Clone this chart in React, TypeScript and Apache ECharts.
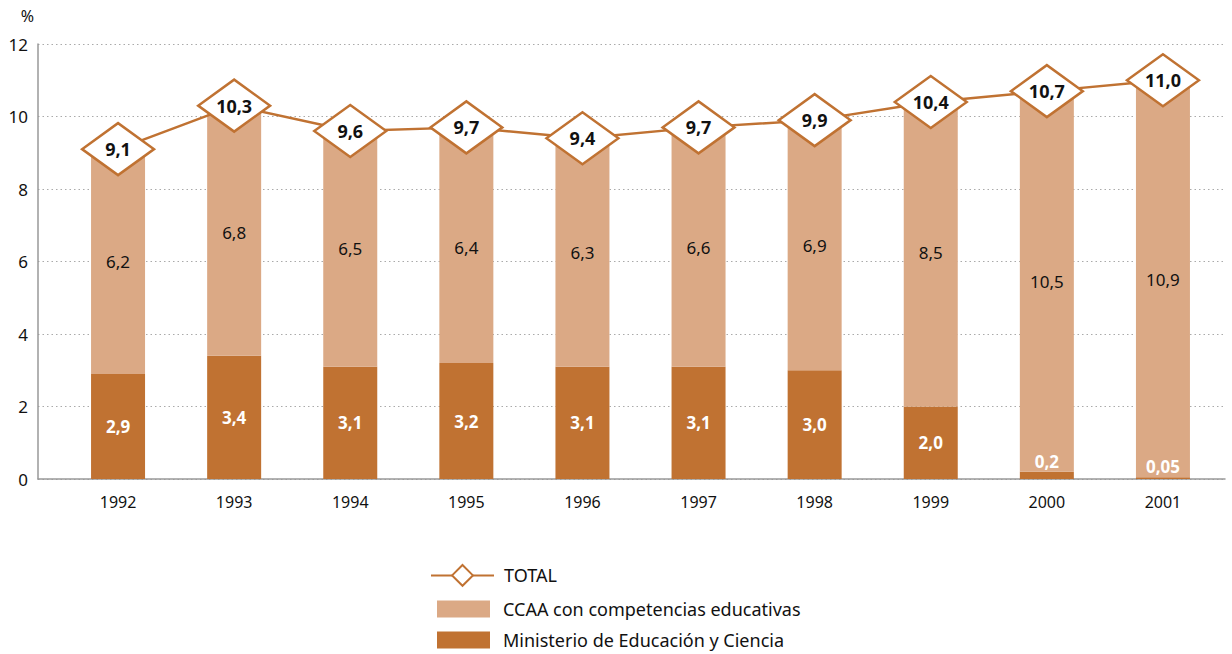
import React, { useEffect, useRef } from "react";
import * as echarts from "echarts";

const years = ["1992", "1993", "1994", "1995", "1996", "1997", "1998", "1999", "2000", "2001"];
const ministerio = [2.9, 3.4, 3.1, 3.2, 3.1, 3.1, 3.0, 2.0, 0.2, 0.05];
const ccaa = [6.2, 6.8, 6.5, 6.4, 6.3, 6.6, 6.9, 8.5, 10.5, 10.9];
const total = [9.1, 10.3, 9.6, 9.7, 9.4, 9.7, 9.9, 10.4, 10.7, 11.0];

const DARK = "#C07232";
const LIGHT = "#DBA985";
const FONT = "'Noto Sans', sans-serif";

const fmt = (v: number) => (v < 0.1 ? v.toFixed(2) : v.toFixed(1)).replace(".", ",");

export default function App() {
  const ref = useRef<HTMLDivElement>(null);
  useEffect(() => {
    if (!ref.current) return;
    const chart = echarts.init(ref.current, null, { renderer: "svg" });
    const gridTop = 44;
    const gridBottom = 175;
    const legendText = { color: "#111", fontSize: 18, fontFamily: FONT };
    chart.setOption({
      animation: false,
      textStyle: { fontFamily: FONT },
      grid: [
        { left: 38, right: 7, top: gridTop, bottom: gridBottom },
        { left: 60, right: 11, top: gridTop, bottom: gridBottom },
      ],
      xAxis: [
        {
          gridIndex: 0,
          type: "value",
          min: 0,
          max: 1,
          axisLine: { show: true, onZero: false, lineStyle: { color: "#999", width: 1.5 } },
          axisTick: { show: false },
          axisLabel: { show: false },
          splitLine: { show: false },
        },
        {
          gridIndex: 1,
          type: "category",
          data: years,
          axisLine: { show: false },
          axisTick: { show: false },
          axisLabel: { color: "#111", fontSize: 16, margin: 15, fontFamily: FONT },
        },
      ],
      yAxis: [
        {
          gridIndex: 0,
          type: "value",
          min: 0,
          max: 12,
          interval: 2,
          name: "%",
          nameLocation: "end",
          nameGap: 20,
          nameTextStyle: { color: "#111", fontSize: 16, align: "right", padding: [0, 4, 0, 0] },
          axisLine: { show: true, lineStyle: { color: "#999", width: 1.5 } },
          axisTick: { show: false },
          axisLabel: { color: "#111", fontSize: 17, margin: 10, fontFamily: FONT },
          splitLine: { show: true, lineStyle: { color: "#aaa", type: [1.5, 3], width: 1 } },
        },
        {
          gridIndex: 1,
          type: "value",
          min: 0,
          max: 12,
          interval: 2,
          show: false,
          splitLine: { show: false },
        },
      ],
      legend: [
        {
          data: ["TOTAL"],
          left: 430,
          top: 564,
          padding: 0,
          itemWidth: 63,
          itemHeight: 26,
          textStyle: { ...legendText, padding: [0, 0, 0, 5] },
        },
        {
          data: [{ name: "CCAA con competencias educativas", icon: "rect" }],
          left: 437,
          top: 600,
          padding: 0,
          itemWidth: 53,
          itemHeight: 17,
          textStyle: { ...legendText, padding: [0, 0, 0, 8] },
        },
        {
          data: [{ name: "Ministerio de Educación y Ciencia", icon: "rect" }],
          left: 437,
          top: 631,
          padding: 0,
          itemWidth: 53,
          itemHeight: 17,
          textStyle: { ...legendText, padding: [0, 0, 0, 8] },
        },
      ],
      series: [
        {
          name: "Ministerio de Educación y Ciencia",
          type: "bar",
          stack: "s",
          xAxisIndex: 1,
          yAxisIndex: 1,
          barWidth: 54,
          itemStyle: { color: DARK },
          data: ministerio.map((v) => ({
            value: v,
            label: v < 1 ? { position: "top", distance: 2 } : undefined,
          })),
          label: {
            show: true,
            position: "inside",
            color: "#fff",
            fontWeight: "bold",
            fontSize: 17,
            fontFamily: FONT,
            formatter: (p: any) => fmt(p.value),
          },
        },
        {
          name: "CCAA con competencias educativas",
          type: "bar",
          stack: "s",
          xAxisIndex: 1,
          yAxisIndex: 1,
          barWidth: 54,
          itemStyle: { color: LIGHT },
          data: ccaa,
          label: {
            show: true,
            position: "inside",
            color: "#111",
            fontSize: 17,
            fontFamily: FONT,
            formatter: (p: any) => fmt(p.value),
          },
        },
        {
          name: "TOTAL",
          type: "line",
          xAxisIndex: 1,
          yAxisIndex: 1,
          z: 5,
          data: total,
          symbol: "diamond",
          symbolSize: [72, 52],
          lineStyle: { color: DARK, width: 2.5 },
          itemStyle: { color: "#fff", borderColor: DARK, borderWidth: 2.5 },
          label: {
            show: true,
            position: "inside",
            color: "#111",
            fontWeight: "bold",
            fontSize: 18,
            fontFamily: FONT,
            formatter: (p: any) => fmt(p.value),
          },
        },
      ],
    });
    return () => chart.dispose();
  }, []);
  return (
    <div
      ref={ref}
      style={{ position: "fixed", left: 0, top: 0, width: 1232, height: 654, background: "#fff" }}
    />
  );
}
